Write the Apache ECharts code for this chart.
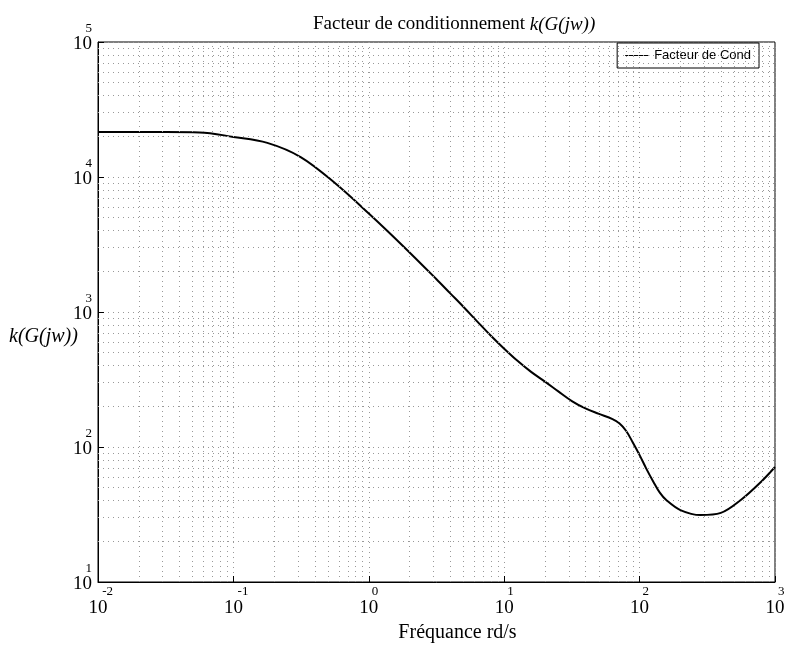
<!DOCTYPE html>
<html>
<head>
<meta charset="utf-8">
<script src="https://cdn.jsdelivr.net/npm/echarts@6/dist/echarts.min.js"></script>
<style>html,body{margin:0;padding:0;background:#fff}#c{width:789px;height:648px}</style>
</head>
<body>
<div id="c"></div>
<script>
// Data (rad/s, condition number)
const frequency = [0.01, 0.0316, 0.0562, 0.1, 0.178, 0.316, 0.562, 1, 1.78, 3.16, 3.98, 5.01, 6.31, 7.94, 10, 12.6, 15.8, 20.0, 25.1, 31.6, 39.8, 50.1, 63.1, 70.8, 79.4, 89.1, 100, 112, 126, 141, 158, 200, 282, 398, 562, 794, 1000];
const condFactor = [21500, 21500, 21400, 19800, 17900, 14000, 9020, 5370, 3100, 1750, 1380, 1090, 853, 670, 535, 433, 360, 305, 258, 219, 193, 176, 161, 150, 132, 108, 87.1, 69.2, 55.6, 45.9, 40.3, 34.1, 31.3, 32.5, 40.7, 55.6, 71.1];
const seriesName = 'Facteur de Cond';
const xDecades = [-2, -1, 0, 1, 2, 3];
const yDecades = [1, 2, 3, 4, 5];

const serif = 'Liberation Serif';
const minorX = [], minorY = [];
for (let i = 0; i < xDecades.length - 1; i++) for (let m = 2; m <= 9; m++) minorX.push({ xAxis: m * Math.pow(10, xDecades[i]) });
for (let i = 0; i < yDecades.length - 1; i++) for (let m = 2; m <= 9; m++) minorY.push({ yAxis: m * Math.pow(10, yDecades[i]) });

const expOf = v => Math.round(Math.log10(v));
const gridStyle = { color: '#999', type: [1, 4], width: 1 };

const chart = echarts.init(document.getElementById('c'));
chart.setOption({
  backgroundColor: '#fff',
  animation: false,
  title: {
    text: '{n|Facteur de conditionnement }{i|k(G(jw))}',
    left: 308, top: 10,
    textStyle: { fontWeight: 'normal', rich: {
      n: { fontFamily: serif, fontSize: 19, fontWeight: 'normal', color: '#000' },
      i: { fontFamily: serif, fontSize: 19, fontWeight: 'normal', fontStyle: 'italic', color: '#000' }
    } }
  },
  graphic: [{
    type: 'text', left: 9, top: 327,
    style: { text: 'k(G(jw))', font: 'italic 20px "Liberation Serif"', fill: '#000' }
  }],
  legend: {
    right: 30, top: 43, padding: [6, 8], itemWidth: 24, itemHeight: 1, itemGap: 10,
    icon: 'rect',
    borderColor: '#000', borderWidth: 1, borderRadius: 0,
    textStyle: { fontFamily: 'Liberation Sans', fontSize: 13, color: '#000' },
    data: [seriesName]
  },
  grid: { left: 98, right: 14, top: 42, bottom: 66, show: true, borderColor: '#000', borderWidth: 1 },
  xAxis: {
    type: 'log', logBase: 10, min: 0.01, max: 1000, splitNumber: 5,
    name: 'Fréquance rd/s', nameLocation: 'middle', nameGap: 36,
    nameTextStyle: { fontFamily: serif, fontSize: 20, color: '#000', padding: [0, 0, 0, 42] },
    axisLine: { lineStyle: { color: '#000' } },
    axisTick: { inside: true, length: 6, lineStyle: { color: '#000' } },
    axisLabel: {
      margin: 4, color: '#000',
      formatter: v => { const s = String(expOf(v)); return '{' + (s.length > 1 ? 'e2' : 'e1') + '|' + s + '}\n{b|10}'; },
      rich: {
        e1: { fontFamily: serif, fontSize: 13, lineHeight: 12, width: 18, align: 'right', color: '#000' },
        e2: { fontFamily: serif, fontSize: 13, lineHeight: 12, width: 30, align: 'right', color: '#000' },
        b: { fontFamily: serif, fontSize: 19, lineHeight: 20, color: '#000' }
      }
    },
    splitLine: { show: true, lineStyle: gridStyle }
  },
  yAxis: {
    type: 'log', logBase: 10, min: 10, max: 100000, splitNumber: 4,
    axisLine: { show: true, lineStyle: { color: '#000' } },
    axisTick: { show: true, inside: true, length: 6, lineStyle: { color: '#000' } },
    axisLabel: {
      margin: 6, color: '#000', padding: [0, 0, 6, 0], align: 'right',
      formatter: v => '{e|' + expOf(v) + '}\n{b|10}',
      rich: {
        e: { fontFamily: serif, fontSize: 13, lineHeight: 10, align: 'right', color: '#000' },
        b: { fontFamily: serif, fontSize: 19, lineHeight: 20, align: 'right', color: '#000' }
      }
    },
    splitLine: { show: true, lineStyle: gridStyle }
  },
  series: [{
    name: seriesName, type: 'line', symbol: 'none', showSymbol: false, smooth: 0.35,
    data: frequency.map((f, i) => [f, condFactor[i]]),
    lineStyle: { color: '#000', width: 2 },
    itemStyle: { color: '#000' },
    markLine: {
      silent: true, symbol: 'none', label: { show: false },
      lineStyle: gridStyle,
      data: minorX.concat(minorY)
    }
  }]
});
</script>
</body>
</html>
